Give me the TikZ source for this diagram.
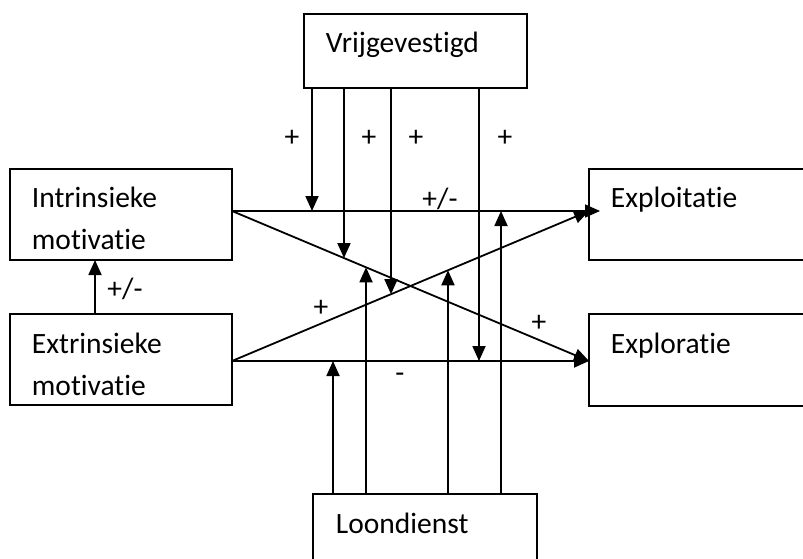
\documentclass[tikz,border=0pt]{standalone}
\usepackage{fontspec}
\setmainfont[Ligatures=NoCommon]{Carlito}
\usetikzlibrary{arrows.meta,calc}
\begin{document}
\begin{tikzpicture}[x=1pt,y=-1pt,line width=1.8pt,
  boxnode/.style={draw,line width=1.8pt,rectangle,inner sep=0pt,outer sep=0pt,anchor=north west},
  txt/.style={anchor=base west,inner sep=0pt,font=\fontsize{29.5}{36}\selectfont},
  lbl/.style={inner sep=0pt,font=\fontsize{29.5}{36}\selectfont},
  arr/.style={-{Triangle[length=15pt,width=13pt]}}]
\useasboundingbox (0,0) rectangle (803,559);
\clip (0,0) rectangle (803,559);
% boxes
\node[boxnode,minimum width=222pt,minimum height=91pt] (intr) at (10,169) {};
\node[boxnode,minimum width=222pt,minimum height=91pt] (extr) at (10,314) {};
\node[boxnode,minimum width=240pt,minimum height=91pt] (exploit) at (589,169) {};
\node[boxnode,minimum width=240pt,minimum height=92pt] (explor) at (589,314) {};
\node[boxnode,minimum width=223pt,minimum height=74pt] (vrij) at (304,14) {};
\node[boxnode,minimum width=224pt,minimum height=90pt] (loon) at (313,494) {};
% texts
\node[txt] (t1) at (31,207) {Intrinsieke};
\node[txt] (t2) at (31,249) {motivatie};
\node[txt] (t3) at (31,353) {Extrinsieke};
\node[txt] (t4) at (31,395) {motivatie};
\node[txt] (t5) at (610,207) {Exploitatie};
\node[txt] (t6) at (610,353) {Exploratie};
\node[txt] (t7) at (325,53) {Vrijgevestigd};
\node[txt] (t8) at (335,533) {Loondienst};
% key points
\coordinate (iA) at (intr.east |- 0,211);
\coordinate (eA) at (extr.east |- 0,361);
\coordinate (xA) at (exploit.west |- 0,211);
\coordinate (xB) at (600,211);
\coordinate (rA) at (explor.west |- 0,361);
% main connectors
\draw[arr] (iA) -- (xB);
\draw[arr] (iA) -- (rA);
\draw[arr] (eA) -- (xA);
\draw[arr] (eA) -- (rA);
\coordinate (c0) at (95,0);
\draw[arr] (extr.north -| c0) -- (intr.south -| c0);
% moderator end points
\coordinate (v1) at (312,211);
\coordinate (v2) at ($(iA)!0.3137!(rA)$);
\coordinate (v3) at ($(eA)!0.4454!(xA)$);
\coordinate (v4) at (479,361);
\coordinate (l1) at (333,361);
\coordinate (l2) at ($(iA)!0.3754!(rA)$);
\coordinate (l3) at ($(eA)!0.6050!(xA)$);
\coordinate (l4) at (501,211);
\foreach \p in {v1,v2,v3,v4}{\draw[arr] (vrij.south -| \p) -- (\p);}
\foreach \p in {l1,l2,l3,l4}{\draw[arr] (loon.north -| \p) -- (\p);}
% labels
\node[lbl] (p1) at (292,138) {+};
\node[lbl] (p2) at (369,138) {+};
\node[lbl] (p3) at (416,138) {+};
\node[lbl] (p4) at (505,138) {+};
\node[lbl] (p5) at (125,289) {+/-};
\node[lbl] (p6) at (440,199) {+/-};
\node[lbl] (p7) at (321,308) {+};
\node[lbl] (p8) at (539,323) {+};
\node[lbl] (p9) at (400,378) {-};
\end{tikzpicture}
\end{document}
